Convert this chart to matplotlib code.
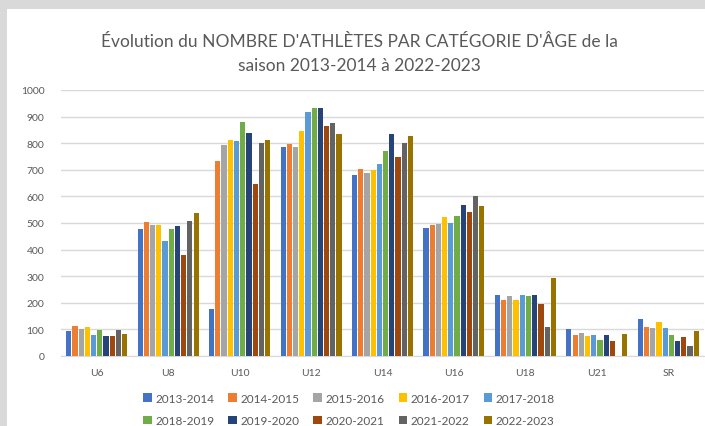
import matplotlib.pyplot as plt
import numpy as np
from matplotlib.patches import Rectangle

plt.rcParams['font.family'] = ['Lato', 'DejaVu Sans']

categories = ["U6", "U8", "U10", "U12", "U14", "U16", "U18", "U21", "SR"]
seasons = ["2013-2014", "2014-2015", "2015-2016", "2016-2017", "2017-2018",
           "2018-2019", "2019-2020", "2020-2021", "2021-2022", "2022-2023"]

# une liste par saison, dans l'ordre des catégories
s2013 = [95, 476, 177, 784, 681, 483, 231, 102, 139]
s2014 = [113, 502, 734, 797, 704, 492, 210, 80, 109]
s2015 = [100, 494, 792, 787, 689, 497, 226, 87, 107]
s2016 = [109, 491, 813, 847, 701, 522, 210, 75, 127]
s2017 = [80, 434, 808, 918, 723, 499, 228, 79, 104]
s2018 = [97, 477, 881, 932, 769, 528, 226, 60, 80]
s2019 = [75, 487, 839, 932, 833, 566, 231, 79, 55]
s2020 = [75, 380, 647, 864, 748, 540, 197, 55, 70]
s2021 = [97, 506, 799, 877, 800, 600, 108, 0, 36]
s2022 = [84, 536, 811, 836, 827, 565, 294, 82, 94]

valeurs = [s2013, s2014, s2015, s2016, s2017, s2018, s2019, s2020, s2021, s2022]
couleurs = ["#4472C4", "#ED7D31", "#A5A5A5", "#FFC000", "#5B9BD5",
            "#70AD47", "#264478", "#9E480E", "#636363", "#997300"]

fig = plt.figure(figsize=(7.05, 4.27), dpi=100)
fig.patch.set_facecolor("#d9d9d9")
# fond blanc du graphique
fig.patches.append(Rectangle((7 / 705, 0), 1, 1 - 10 / 427, transform=fig.transFigure,
                             facecolor="white", edgecolor="none", zorder=-5))

ax = fig.add_axes([61 / 705, 1 - 357 / 427, 643 / 705, 266 / 427])
ax.set_facecolor("white")

x = np.arange(len(categories))
slot = 0.087
barres = []
for i in range(len(seasons)):
    pos = x - 0.435 + slot * (i + 0.5)
    b = ax.bar(pos, valeurs[i], width=0.072, color=couleurs[i], label=seasons[i], zorder=3)
    barres.append(b)

ax.set_xlim(-0.5, len(categories) - 0.5)
ax.set_ylim(0, 1000)
ax.set_yticks(range(0, 1001, 100))
ax.set_xticks(x)
ax.set_xticklabels(categories)
ax.grid(axis="y", color="#d9d9d9", linewidth=1, zorder=0)
for s in ["top", "right", "left"]:
    ax.spines[s].set_visible(False)
ax.spines["bottom"].set_color("#d9d9d9")
ax.tick_params(length=0, colors="#595959", labelsize=7.5)
ax.tick_params(axis="y", pad=12)
ax.tick_params(axis="x", pad=9)

fig.text(0.51, 1 - 42 / 427, "Évolution du NOMBRE D'ATHLÈTES PAR CATÉGORIE D'ÂGE de la",
         ha="center", va="center", fontsize=12.5, color="#595959")
fig.text(0.51, 1 - 66 / 427, "saison 2013-2014 à 2022-2023",
         ha="center", va="center", fontsize=12.5, color="#595959")

# légende remplie par ligne : 5 premières saisons en haut
ordre = [0, 5, 1, 6, 2, 7, 3, 8, 4, 9]
leg = fig.legend([barres[k] for k in ordre], [seasons[k] for k in ordre],
                 loc="upper center", bbox_to_anchor=(0.495, 1 - 383 / 427), ncol=5,
                 frameon=False, fontsize=8.5, handlelength=0.7, handleheight=0.7,
                 handletextpad=0.3, columnspacing=1.2, labelspacing=1.0)
for t in leg.get_texts():
    t.set_color("#595959")

fig.savefig("out.png", dpi=100)
